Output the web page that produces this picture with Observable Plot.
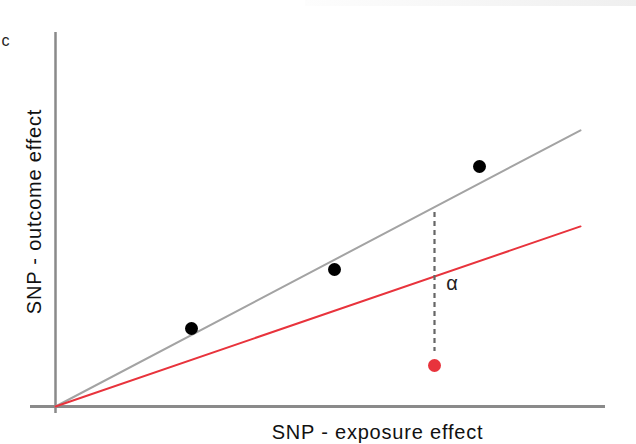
<!DOCTYPE html>
<html>
<head>
<meta charset="utf-8">
<script src="https://cdn.jsdelivr.net/npm/d3@7"></script>
<script src="https://cdn.jsdelivr.net/npm/@observablehq/plot@0.6"></script>
<style>
  html, body { margin: 0; padding: 0; background: #fff; }
  #wrap { position: relative; width: 636px; height: 444px; overflow: hidden; }
  #band { position: absolute; left: 305px; top: 0; width: 331px; height: 6px;
          background: linear-gradient(to right, #fdfdfd, #efefef); }
  .axlabel text { letter-spacing: 0.8px; }
</style>
</head>
<body>
<div id="wrap"><div id="band"></div><div id="chart"></div></div>
<script>
// SNP effects (arbitrary units)
const snpExposure = [1.36, 2.79, 4.24];
const snpOutcome  = [0.78, 1.37, 2.40];
const outlierExposure = [3.79];
const outlierOutcome  = [0.41];

// fitted lines through the origin
const lineX = [0, 5.25];
const graySlope = 0.526;   // true causal estimate
const redSlope  = 0.343;   // biased estimate

// dashed pleiotropy segment (alpha)
const alphaX = [3.79];
const alphaTop = [1.94];
const alphaBottom = [0.55];

// axis extents
const xAxisExtent = [-0.25, 5.5];
const yAxisExtent = [-0.07, 3.74];

// labels
const xLabel = "SNP - exposure effect";
const yLabel = "SNP - outcome effect";
const alphaLabel = "α";
const panelLabel = "c";

const points = snpExposure.map((x, i) => ({x, y: snpOutcome[i]}));
const outliers = outlierExposure.map((x, i) => ({x, y: outlierOutcome[i]}));
const grayLine = lineX.map(x => ({x, y: graySlope * x}));
const redLine = lineX.map(x => ({x, y: redSlope * x}));
const dashed = alphaX.map((x, i) => ({x, y1: alphaTop[i], y2: alphaBottom[i]}));

const font = "'Liberation Sans', Arial, Helvetica, sans-serif";

const chart = Plot.plot({
  width: 636,
  height: 444,
  margin: 0,
  x: {domain: [-0.55, 5.81], axis: null},
  y: {domain: [-0.38, 4.06], axis: null},
  style: {fontFamily: font, background: "transparent"},
  marks: [
    Plot.ruleY([0], {x1: xAxisExtent[0], x2: xAxisExtent[1], stroke: "#8a8a8a", strokeWidth: 3}),
    Plot.ruleX([0], {y1: yAxisExtent[0], y2: yAxisExtent[1], stroke: "#8a8a8a", strokeWidth: 2.5}),
    Plot.line(grayLine, {x: "x", y: "y", stroke: "#a3a3a3", strokeWidth: 2}),
    Plot.line(redLine, {x: "x", y: "y", stroke: "#e8333c", strokeWidth: 2}),
    Plot.ruleX(dashed, {x: "x", y1: "y1", y2: "y2", stroke: "#666", strokeWidth: 2.2, strokeDasharray: "5,4"}),
    Plot.dot(points, {x: "x", y: "y", r: 6.5, fill: "#000", stroke: "none"}),
    Plot.dot(outliers, {x: "x", y: "y", r: 6.5, fill: "#e8333c", stroke: "none"}),
    Plot.text([alphaLabel], {x: 3.965, y: 1.23, text: d => d, fontSize: 20, fill: "#222"}),
    Plot.text([xLabel], {x: 3.22, y: -0.26, text: d => d, fontSize: 20, fill: "#111", className: "axlabel"}),
    Plot.text([yLabel], {x: -0.21, y: 1.95, text: d => d, fontSize: 20, fill: "#111", rotate: -90, className: "axlabel"}),
    Plot.text([panelLabel], {x: -0.55, y: 3.66, text: d => d, fontSize: 16, fill: "#222", textAnchor: "start", dx: 1})
  ]
});
document.getElementById("chart").append(chart);
</script>
</body>
</html>
